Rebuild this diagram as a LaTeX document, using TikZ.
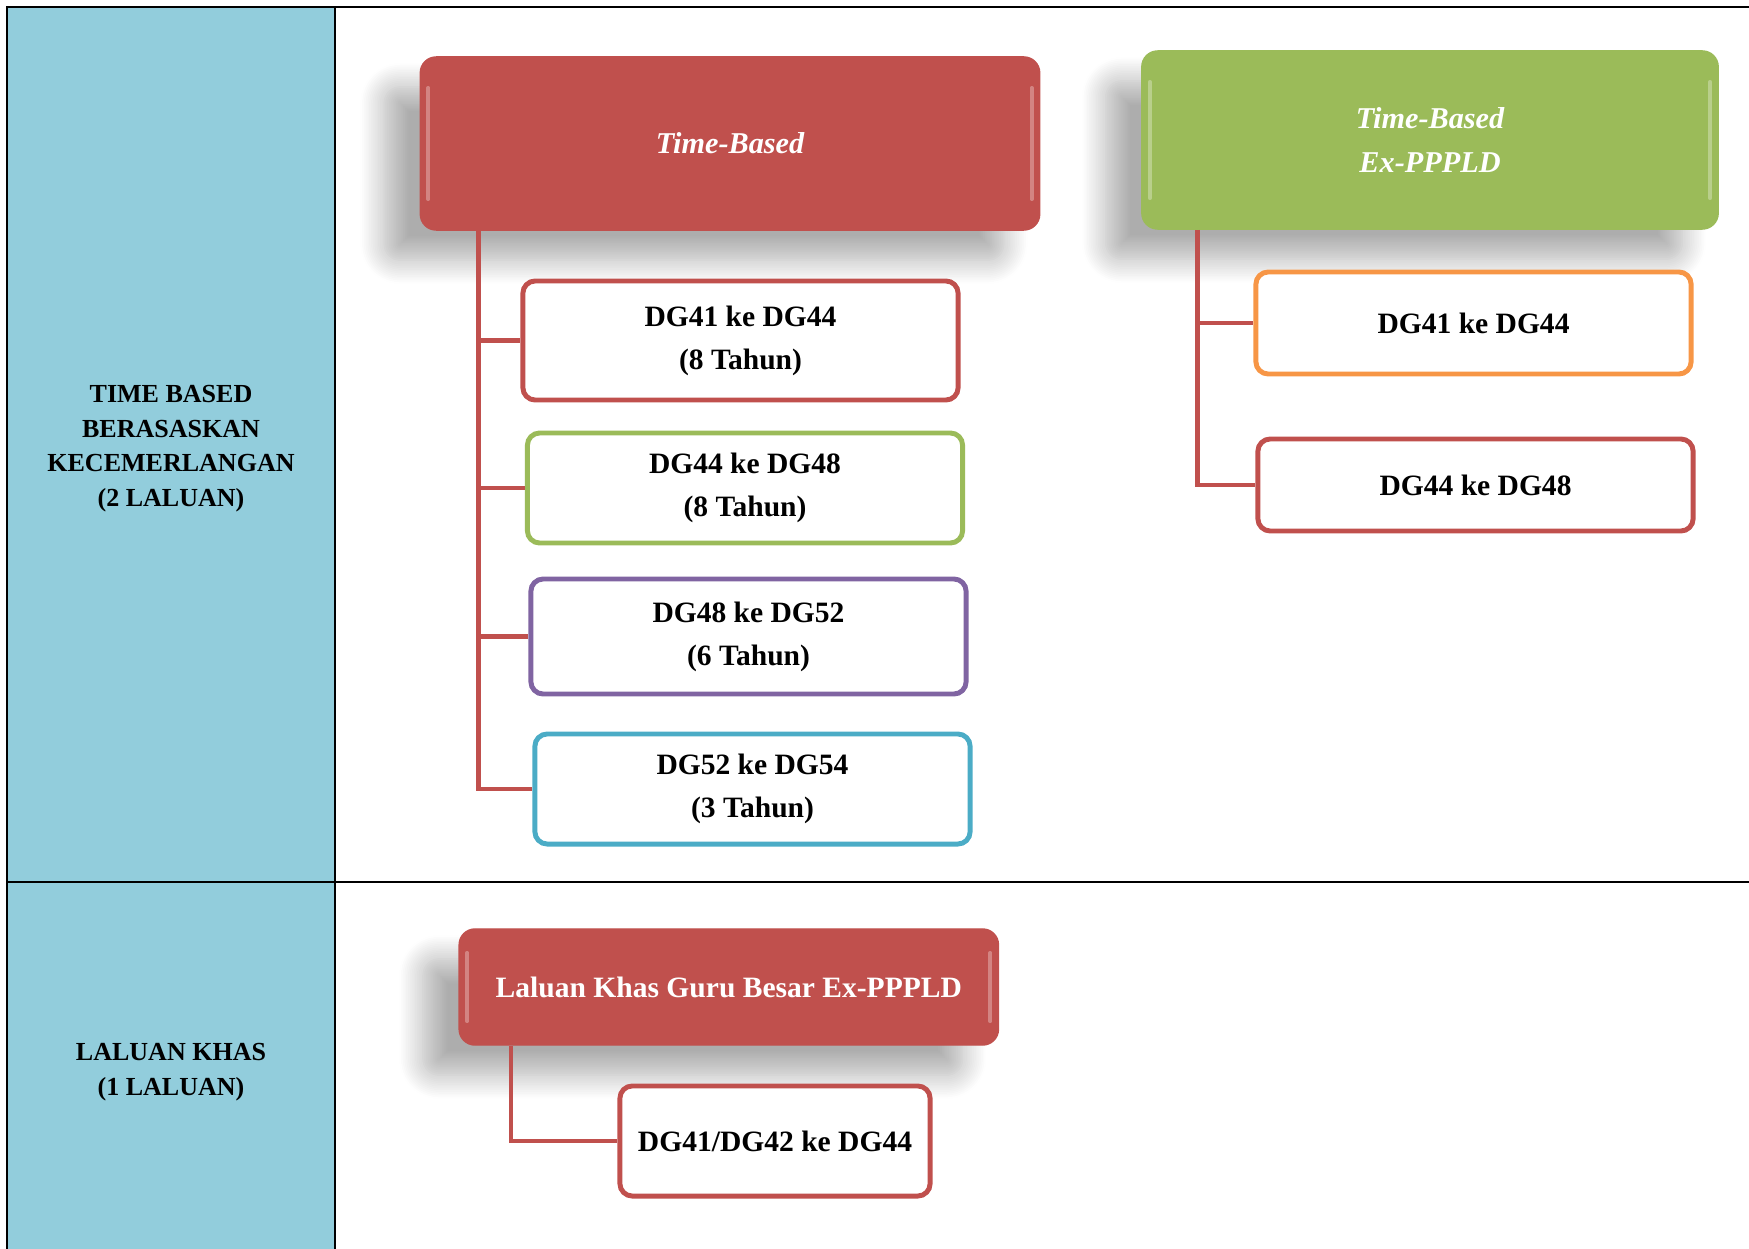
\documentclass[tikz,border=0pt]{standalone}
\usepackage{fontspec}
\setmainfont{Liberation Serif}
\usetikzlibrary{shadows.blur}

\definecolor{tbred}{HTML}{C0504D}
\definecolor{tbgreen}{HTML}{9BBB59}
\definecolor{tbpurple}{HTML}{8064A2}
\definecolor{tbaqua}{HTML}{4BACC6}
\definecolor{tborange}{HTML}{F79646}
\definecolor{sidebg}{HTML}{92CDDC}

\begin{document}
\begin{tikzpicture}[x=0.01cm, y=-0.01cm,
  rule/.style={line width=0.6pt},
  side/.style={align=center, font=\bfseries\fontsize{7.4}{9.8}\selectfont},
  head/.style={rectangle, rounded corners=4.5pt, fill=#1, draw=#1, text=white, align=center, inner sep=0pt,
    font=\bfseries\itshape\fontsize{8.6}{12.4}\selectfont,
    blur shadow={shadow xshift=-0.36cm, shadow yshift=-0.3cm, shadow blur radius=0.24cm, shadow blur steps=14, shadow opacity=32}},
  leaf/.style={rectangle, rounded corners=3.5pt, draw=#1, line width=1.4pt, fill=white, align=center, inner sep=0pt,
    font=\bfseries\fontsize{8.4}{12.2}\selectfont},
  link/.style={draw=tbred, line width=1.4pt},
  shine/.style={draw=white, draw opacity=0.3, line width=1.1pt, line cap=round}]
\useasboundingbox (0,0) rectangle (1749,1249);

% table
\fill[sidebg] (7,7) rectangle (335,1249);
\draw[rule] (7,1249) -- (7,7) -- (1749,7);
\draw[rule] (335,7) -- (335,1249);
\draw[rule] (7,882) -- (1749,882);

\node[side] (row1) at (171,448.5) {TIME BASED\\BERASASKAN\\KECEMERLANGAN\\(2 LALUAN)};
\node[side] (row2) at (171,1072) {LALUAN KHAS\\(1 LALUAN)};

% time-based
\node[head=tbred, minimum width=6.19cm, minimum height=1.73cm] (tb) at (730,143.5) {Time-Based};
\node[leaf=tbred, minimum width=4.35cm, minimum height=1.19cm] (tb1) at (740.5,340.5) {DG41 ke DG44\\(8 Tahun)};
\node[leaf=tbgreen, minimum width=4.35cm, minimum height=1.10cm] (tb2) at (745,488) {DG44 ke DG48\\(8 Tahun)};
\node[leaf=tbpurple, minimum width=4.35cm, minimum height=1.15cm] (tb3) at (748.5,636.5) {DG48 ke DG52\\(6 Tahun)};
\node[leaf=tbaqua, minimum width=4.35cm, minimum height=1.10cm] (tb4) at (752.5,789) {DG52 ke DG54\\(3 Tahun)};

\coordinate (tbroot) at ([xshift=0.59cm]tb.south west);
\draw[link] (tbroot) |- (tb1.west);
\draw[link] (tbroot) |- (tb2.west);
\draw[link] (tbroot) |- (tb3.west);
\draw[link] (tbroot) |- (tb4.west);

% time-based ex-PPPLD
\node[head=tbgreen, minimum width=5.76cm, minimum height=1.78cm] (tbx) at (1430,140) {Time-Based\\Ex-PPPLD};
\node[leaf=tborange, minimum width=4.35cm, minimum height=1.02cm] (tbx1) at (1473.5,323) {DG41 ke DG44};
\node[leaf=tbred, minimum width=4.35cm, minimum height=0.92cm] (tbx2) at (1475.5,485) {DG44 ke DG48};

\coordinate (tbxroot) at ([xshift=0.56cm]tbx.south west);
\draw[link] (tbxroot) |- (tbx1.west);
\draw[link] (tbxroot) |- (tbx2.west);

% laluan khas
\node[head=tbred, font=\bfseries\fontsize{8.4}{12.2}\selectfont, minimum width=5.39cm, minimum height=1.16cm] (lk) at (728.8,987) {Laluan Khas Guru Besar Ex-PPPLD};
\node[leaf=tbred, minimum width=3.10cm, minimum height=1.10cm] (lk1) at (775,1141) {DG41/DG42 ke DG44};

\coordinate (lkroot) at ([xshift=0.525cm]lk.south west);
\draw[link] (lkroot) |- (lk1.west);

% glossy edges
\draw[shine] ([xshift=2.5pt,yshift=-9pt]tb.north west) -- ([xshift=2.5pt,yshift=9pt]tb.south west);
\draw[shine] ([xshift=-2.5pt,yshift=-9pt]tb.north east) -- ([xshift=-2.5pt,yshift=9pt]tb.south east);
\draw[shine] ([xshift=2.5pt,yshift=-9pt]tbx.north west) -- ([xshift=2.5pt,yshift=9pt]tbx.south west);
\draw[shine] ([xshift=-2.5pt,yshift=-9pt]tbx.north east) -- ([xshift=-2.5pt,yshift=9pt]tbx.south east);
\draw[shine] ([xshift=2.5pt,yshift=-7pt]lk.north west) -- ([xshift=2.5pt,yshift=7pt]lk.south west);
\draw[shine] ([xshift=-2.5pt,yshift=-7pt]lk.north east) -- ([xshift=-2.5pt,yshift=7pt]lk.south east);
\end{tikzpicture}
\end{document}
